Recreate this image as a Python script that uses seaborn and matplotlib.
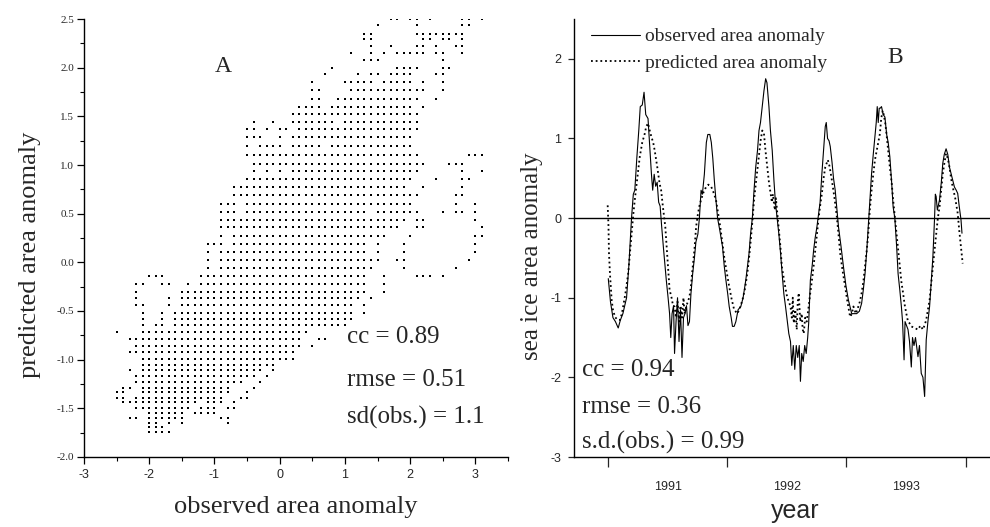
import numpy as np
import pandas as pd
import matplotlib
matplotlib.use("Agg")
import matplotlib.pyplot as plt
from matplotlib.ticker import MultipleLocator
import seaborn as sns

# ---- panel A: occupied cells of the predicted/observed grid, row by row ----
a_col_x0 = -2.5     # x of column 0
a_col_dx = 0.1      # column spacing
a_row_y = [2.50, 2.435, 2.35, 2.29, 2.22, 2.15, 2.08, 2.00, 1.93, 1.85,
           1.77, 1.68, 1.60, 1.52, 1.44, 1.37, 1.29, 1.195, 1.107, 1.014,
           0.935, 0.86, 0.774, 0.689, 0.603, 0.517, 0.439, 0.363, 0.27, 0.185,
           0.106, 0.02, -0.058, -0.14, -0.22, -0.305, -0.367, -0.44, -0.517, -0.586,
           -0.647, -0.72, -0.79, -0.86, -0.92, -0.99, -1.05, -1.11, -1.17, -1.23,
           -1.29, -1.33, -1.39, -1.44, -1.50, -1.545, -1.60, -1.65, -1.69, -1.74]
a_row_cols = [
    "42-43,45-46,48,53-54,56",
    "40,46,53-54",
    "38-39,46-53",
    "38-39,47-48,50-51,53",
    "39,42,46-47,49,52-53",
    "36,39,41,43-47,49-50,53",
    "38-40,50",
    "33,43-46,50-51",
    "32,37,39-40,42-45,49-50",
    "30,35-39,41-45,47,50",
    "30-31,36-47,50",
    "30-31,34-46,49",
    "28-31,33-45,47",
    "27-46",
    "21,24,27-33,35-46",
    "20-21,23,25-26,28-46",
    "20-22,25,27-45",
    "20,22-25,27-31,33-45",
    "20-46,54-56",
    "21-47,51-53",
    "21,23,25,27-46,53,56",
    "20-45,49,53-54",
    "18-44,47,53",
    "18-46,52-53",
    "16-18,20-45,52,55",
    "16-18,20-38,40-46,50,52-53,55",
    "16-44,46-47,55",
    "16-43,46-47,56",
    "16,18-41,45,55-56",
    "14-16,18-38,40,44,55",
    "14,16-38,40,44,55",
    "14,16-40,43-44,54",
    "14,16-39,44,52",
    "5-7,13-38,41,46-48,50",
    "3-4,7-8,11,13-38,41",
    "3,10-38,41",
    "3,8,10-37,39",
    "3-4,8,10-36,38",
    "4,7,9-36,38",
    "4,7,9-36",
    "4,6-7,9-35",
    "0,4-29",
    "2-28,31-32",
    "3-28,30",
    "2-27",
    "4-27",
    "4-24",
    "2,4-22,24",
    "3-21,23",
    "3-19,22",
    "1-2,4-17,21",
    "0-1,4-17,20",
    "0-1,3-16,19-20",
    "1-12,14-16,18",
    "3-11,13-15,17-18",
    "5-10,12-15",
    "2-3,5-10,16-17",
    "5-6,8,10,17",
    "5-7",
    "5-8",
]

# ---- panel B: months since Jan 1991, anomaly values ----
obs_m = [0.03, 0.25, 0.5, 0.75, 1.03, 1.25, 1.5, 1.87, 2.1, 2.37, 2.55, 2.7, 2.9, 3.1, 3.25, 3.45, 3.63, 3.8,
         4.03, 4.2, 4.37, 4.5, 4.65, 4.8, 4.95, 5.1, 5.25, 5.4, 5.6, 5.87, 6.05, 6.2, 6.32, 6.45, 6.6, 6.7,
         6.85, 7.0, 7.15, 7.3, 7.45, 7.6, 7.75, 7.9, 8.05, 8.2, 8.35, 8.53, 8.7, 8.85, 9.05, 9.2, 9.37, 9.5,
         9.7, 9.9, 10.05, 10.25, 10.4, 10.55, 10.7, 10.85, 11.03, 11.25, 11.53, 11.7, 11.87, 12.05, 12.2,
         12.4, 12.53, 12.7, 12.87, 13.1, 13.37, 13.6, 13.87, 14.05, 14.2, 14.35, 14.53, 14.7, 14.87, 15.05,
         15.2, 15.35, 15.53, 15.7, 15.87, 16.0, 16.2, 16.35, 16.53, 16.7, 16.85, 17.03, 17.2, 17.37, 17.53,
         17.7, 17.87, 18.05, 18.2, 18.37, 18.5, 18.65, 18.8, 18.95, 19.1, 19.25, 19.37, 19.5, 19.65, 19.8,
         19.95, 20.1, 20.2, 20.37, 20.55, 20.7, 20.85, 21.03, 21.2, 21.35, 21.53, 21.7, 21.87, 21.97, 22.1,
         22.25, 22.37, 22.55, 22.7, 22.87, 23.05, 23.2, 23.45, 23.7, 23.95, 24.2, 24.53, 24.75, 25.03, 25.3,
         25.53, 25.7, 25.87, 26.05, 26.2, 26.35, 26.53, 26.7, 26.87, 27.0, 27.1, 27.2, 27.3, 27.4, 27.53,
         27.7, 27.87, 28.05, 28.2, 28.37, 28.55, 28.7, 28.87, 29.05, 29.2, 29.37, 29.53, 29.65, 29.8, 29.9,
         30.05, 30.2, 30.35, 30.53, 30.65, 30.8, 30.95, 31.1, 31.2, 31.35, 31.53, 31.7, 31.87, 32.03, 32.2,
         32.37, 32.53, 32.7, 32.87, 32.95, 33.03, 33.15, 33.37, 33.55, 33.7, 33.85, 34.03, 34.2, 34.37,
         34.55, 34.7, 34.87, 35.05, 35.2, 35.35, 35.53, 35.63]
obs_v = [-0.76, -1.05, -1.25, -1.3, -1.38, -1.28, -1.2, -1.0, -0.6, 0.0, 0.3, 0.35, 0.75, 1.1, 1.4, 1.42, 1.58, 1.3,
         1.25, 0.9, 0.56, 0.35, 0.55, 0.4, 0.45, 0.2, 0.15, -0.1, -0.4, -0.78, -1.0, -1.2, -1.5, -1.2, -1.1, -1.7,
         -1.3, -1.0, -1.55, -1.15, -1.75, -1.25, -1.2, -1.1, -1.35, -1.3, -0.95, -0.69, -0.5, -0.3, -0.2, 0.0, 0.35, 0.3,
         0.55, 0.95, 1.05, 1.05, 0.95, 0.75, 0.48, 0.25, 0.0, -0.15, -0.36, -0.6, -0.78, -0.95, -1.11,
         -1.25, -1.36, -1.36, -1.3, -1.15, -1.11, -1.0, -0.78, -0.6, -0.44, -0.2, 0.0, 0.35, 0.64, 0.85,
         1.1, 1.2, 1.4, 1.6, 1.75, 1.7, 1.4, 1.1, 0.85, 0.48, 0.2, 0.0, -0.2, -0.44, -0.7,
         -0.95, -1.11, -1.3, -1.45, -1.55, -1.85, -1.6, -1.9, -1.6, -1.75, -1.6, -2.05, -1.7, -1.8, -1.6,
         -1.7, -1.5, -1.32, -0.78, -0.6, -0.4, -0.25, -0.11, 0.06, 0.2, 0.56, 0.85, 1.15, 1.2, 1.0,
         0.97, 0.9, 0.7, 0.5, 0.35, 0.1, -0.11, -0.35, -0.61, -0.85, -1.03, -1.2, -1.2, -1.2, -1.17,
         -1.07, -0.9, -0.7, -0.4, -0.11, 0.2, 0.56, 0.8, 1.02, 1.2, 1.4, 1.2, 1.38, 1.38, 1.4,
         1.3, 1.27, 1.05, 0.95, 0.77, 0.45, 0.14, 0.0, -0.35, -0.7, -0.9, -1.11, -1.3, -1.78, -1.3,
         -1.35, -1.4, -1.55, -1.87, -1.5, -1.6, -1.5, -1.65, -1.74, -1.6, -1.95, -2.0, -2.24, -1.53, -1.3,
         -1.11, -0.8, -0.49, 0.0, 0.3, 0.27, 0.1, 0.23, 0.45, 0.69, 0.8, 0.87, 0.8, 0.64,
         0.55, 0.48, 0.39, 0.35, 0.31, 0.15, -0.02, -0.19]

pred_m = [-0.03, 0.05, 0.1, 0.2, 0.37, 0.5, 0.7, 0.9, 1.2, 1.4, 1.53, 1.75, 2.03, 2.2, 2.37, 2.55, 2.7, 2.95,
          3.2, 3.45, 3.7, 3.85, 4.03, 4.2, 4.37, 4.55, 4.7, 4.95, 5.2, 5.35, 5.53, 5.77, 5.9, 6.03, 6.2, 6.4,
          6.55, 6.7, 6.85, 7.0, 7.15, 7.3, 7.45, 7.6, 7.7, 7.9, 8.2, 8.35, 8.53, 8.7, 8.87, 9.05, 9.2, 9.37,
          9.6, 9.87, 10.1, 10.37, 10.6, 10.87, 11.1, 11.3, 11.5, 11.7, 11.95, 12.2, 12.45, 12.7, 13.03, 13.3,
          13.53, 13.8, 14.03, 14.2, 14.37, 14.55, 14.7, 14.87, 15.03, 15.2, 15.37, 15.53, 15.7, 15.85, 16.03,
          16.2, 16.37, 16.5, 16.6, 16.7, 16.8, 16.9, 17.0, 17.2, 17.35, 17.5, 17.75, 18.03, 18.2, 18.37, 18.5,
          18.6, 18.7, 18.85, 19.0, 19.1, 19.2, 19.35, 19.5, 19.6, 19.7, 19.85, 20.0, 20.2, 20.35, 20.53, 20.7,
          20.87, 21.05, 21.2, 21.35, 21.53, 21.7, 21.87, 22.13, 22.3, 22.53, 22.8, 23.03, 23.2, 23.37, 23.6,
          23.87, 24.1, 24.37, 24.55, 24.7, 24.95, 25.2, 25.35, 25.53, 25.7, 25.87, 26.05, 26.2, 26.35, 26.53,
          26.7, 26.87, 27.05, 27.2, 27.37, 27.5, 27.65, 27.75, 27.9, 28.03, 28.2, 28.37, 28.55, 28.7, 28.87,
          29.03, 29.2, 29.37, 29.53, 29.7, 29.85, 30.03, 30.2, 30.35, 30.53, 30.85, 31.2, 31.45, 31.7, 31.85,
          32.03, 32.2, 32.37, 32.53, 32.7, 32.87, 33.03, 33.2, 33.37, 33.53, 33.7, 33.87, 34.03, 34.2, 34.37,
          34.53, 34.7, 34.95, 35.2, 35.35, 35.53, 35.7]
pred_v = [0.16, -0.1, -0.44, -0.7, -1.03, -1.15, -1.24, -1.27, -1.28, -1.2, -1.11, -0.95, -0.7, -0.45, -0.19, 0.05, 0.23, 0.5,
          0.77, 0.95, 1.06, 1.15, 1.19, 1.1, 1.02, 0.95, 0.85, 0.65, 0.43, 0.35, 0.14, -0.11, -0.35, -0.61, -0.9, -1.0,
          -1.1, -1.11, -1.25, -1.05, -1.3, -1.1, -1.25, -1.0, -1.2, -1.1, -0.99, -0.85, -0.61, -0.4, -0.11, 0.05, 0.15, 0.23,
          0.32, 0.39, 0.42, 0.4, 0.33, 0.23, 0.05, -0.11, -0.3, -0.49, -0.68, -0.86, -1.02, -1.15, -1.2, -1.12,
          -1.03, -0.88, -0.69, -0.5, -0.28, -0.02, 0.23, 0.42, 0.6, 0.8, 0.98, 1.1, 1.06, 0.85, 0.64,
          0.45, 0.31, 0.2, 0.3, 0.19, 0.1, 0.25, 0.12, -0.15, -0.35, -0.61, -0.8, -0.99, -1.05, -1.11, -1.25,
          -1.0, -1.32, -1.15, -1.4, -1.05, -0.94, -1.3, -1.2, -1.4, -1.45, -1.25, -1.3, -1.11, -0.95, -0.78, -0.6,
          -0.4, -0.2, 0.0, 0.15, 0.31, 0.5, 0.64, 0.73, 0.65, 0.48, 0.25, 0.02, -0.2, -0.44, -0.65,
          -0.86, -1.05, -1.24, -1.2, -1.11, -1.2, -1.11, -1.05, -0.94, -0.8, -0.61, -0.4, -0.19, 0.1, 0.35,
          0.55, 0.73, 0.85, 0.95, 1.06, 1.25, 1.35, 1.3, 1.2, 1.06, 0.85, 0.64, 0.45, 0.23, 0.02,
          -0.19, -0.4, -0.61, -0.8, -0.94, -1.08, -1.2, -1.3, -1.32, -1.36, -1.38, -1.4, -1.35, -1.4, -1.35,
          -1.28, -1.15, -1.03, -0.82, -0.61, -0.4, -0.19, 0.0, 0.14, 0.35, 0.56, 0.7, 0.81, 0.75, 0.64,
          0.5, 0.39, 0.25, 0.06, -0.15, -0.36, -0.57]

year_ticks = [0, 12, 24, 36]
year_label_pos = [6, 18, 30]
year_labels = ["1991", "1992", "1993"]


def expand(spec):
    cols = []
    for part in spec.split(","):
        if "-" in part:
            a, b = part.split("-")
            cols.extend(range(int(a), int(b) + 1))
        else:
            cols.append(int(part))
    return cols


pts = []
for y, spec in zip(a_row_y, a_row_cols):
    for c in expand(spec):
        pts.append((a_col_x0 + a_col_dx * c, y))
dfa = pd.DataFrame(pts, columns=["observed", "predicted"])

sns.set_style("ticks")
plt.rcParams["font.family"] = ["Liberation Serif", "DejaVu Serif"]
plt.rcParams["axes.linewidth"] = 1.0
plt.rcParams["axes.unicode_minus"] = False
SANS = ["Liberation Sans", "DejaVu Sans"]
SERIF = ["Liberation Serif", "DejaVu Serif"]

fig = plt.figure(figsize=(9.9, 5.27), dpi=100)
W, H = 990, 527
ax1 = fig.add_axes([84 / W, (H - 457) / H, 424 / W, 438 / H])
ax2 = fig.add_axes([574 / W, (H - 457) / H, 416 / W, 438 / H])

# ---------------- panel A ----------------
sns.scatterplot(data=dfa, x="observed", y="predicted", ax=ax1, marker="s",
                s=4.5, color="black", linewidth=0, legend=False)
ax1.set_xlim(-3, 3.5)
ax1.set_ylim(-2.0, 2.5)
ax1.set_xticks([-3, -2, -1, 0, 1, 2, 3])
ax1.set_yticks([-2.0, -1.5, -1.0, -0.5, 0.0, 0.5, 1.0, 1.5, 2.0, 2.5])
ax1.set_yticklabels([f"{v:.1f}" for v in ax1.get_yticks()])
ax1.xaxis.set_minor_locator(MultipleLocator(0.5))
ax1.yaxis.set_minor_locator(MultipleLocator(0.25))
ax1.tick_params(which="major", direction="out", length=5, width=0.9, color="black")
ax1.tick_params(which="minor", direction="out", length=3, width=0.8, color="black")
ax1.tick_params(axis="x", labelsize=9, pad=4)
ax1.tick_params(axis="y", labelsize=8, pad=2)
for t in ax1.get_xticklabels():
    t.set_family(SANS)
for t in ax1.get_yticklabels():
    t.set_family(SERIF)
ax1.set_xlabel("observed area anomaly", fontsize=19, va="center")
ax1.set_ylabel("predicted area anomaly", fontsize=19, va="center")
ax1.xaxis.set_label_coords(0.5, -0.114)
ax1.yaxis.set_label_coords(-0.128, 0.461)
ax1.text(-0.87, 2.01, "A", fontsize=17, ha="center", va="center")
for yv, s in zip([-0.77, -1.21, -1.59], ["cc = 0.89", "rmse = 0.51", "sd(obs.) = 1.1"]):
    ax1.text(1.03, yv, s, fontsize=18, ha="left", va="center")

# ---------------- panel B ----------------
ax2.axhline(0, color="black", lw=1.0)
sns.lineplot(x=obs_m, y=obs_v, ax=ax2, color="black", lw=0.8, sort=False,
             estimator=None, label="observed area anomaly")
sns.lineplot(x=pred_m, y=pred_v, ax=ax2, color="black", lw=1.3, sort=False,
             estimator=None, linestyle=(0, (1, 1.6)), label="predicted area anomaly")
ax2.set_xlim(-3.42, 38.45)
ax2.set_ylim(-3, 2.5)
ax2.set_yticks([-3, -2, -1, 0, 1, 2])
ax2.set_xticks(year_ticks)
ax2.set_xticklabels([""] * len(year_ticks))
ax2.set_xticks(year_label_pos, minor=True)
ax2.set_xticklabels(year_labels, minor=True)
ax2.tick_params(axis="x", which="major", direction="out", length=7, width=0.9)
ax2.tick_params(axis="x", which="minor", length=0, pad=17, labelsize=9)
ax2.tick_params(axis="y", which="major", direction="out", length=4, width=0.9,
                labelsize=9, pad=5)
for t in ax2.get_xticklabels(minor=True) + ax2.get_yticklabels():
    t.set_family(SANS)
ax2.set_xlabel("year", fontsize=18, family=SANS, va="center")
ax2.set_ylabel("sea ice area anomaly", fontsize=18, va="center")
ax2.xaxis.set_label_coords(0.531, -0.124)
ax2.yaxis.set_label_coords(-0.101, 0.458)
leg = ax2.legend(loc="upper left", bbox_to_anchor=(0.042, 0.98), frameon=False,
                 fontsize=14, handlelength=2.5, handletextpad=0.25,
                 labelspacing=0.45, borderpad=0, borderaxespad=0)
ax2.text(0.772, 0.913, "B", transform=ax2.transAxes, fontsize=17,
         ha="center", va="center")
for yv, s in zip([0.199, 0.114, 0.034], ["cc = 0.94", "rmse = 0.36", "s.d.(obs.) = 0.99"]):
    ax2.text(0.019, yv, s, transform=ax2.transAxes, fontsize=18, ha="left", va="center")

for ax in (ax1, ax2):
    sns.despine(ax=ax)
    ax.spines["left"].set_color("black")
    ax.spines["bottom"].set_color("black")

fig.savefig("out.png", dpi=100)
